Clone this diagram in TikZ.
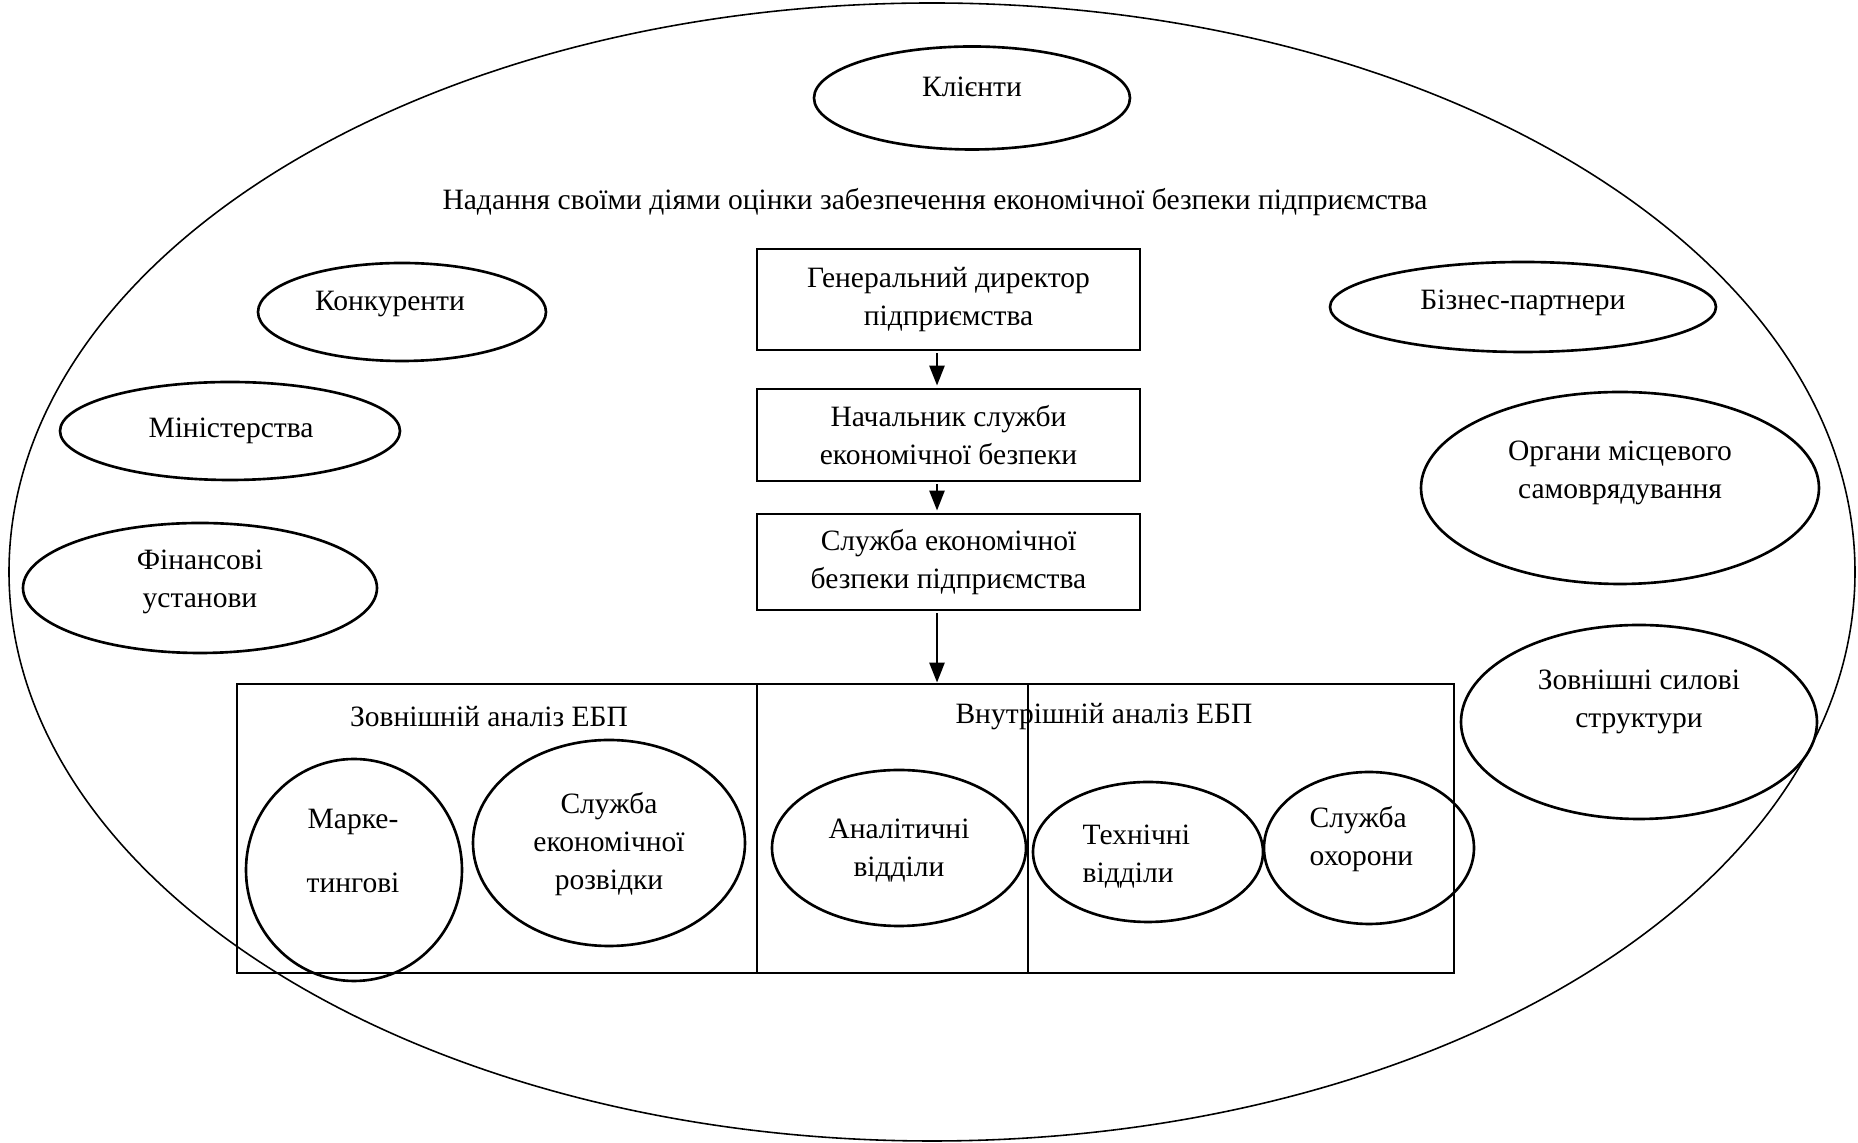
\documentclass[tikz,border=0pt]{standalone}
\usepackage{fontspec}
\setmainfont{Liberation Serif}
\usetikzlibrary{shapes.geometric,arrows.meta}

\begin{document}
\begin{tikzpicture}[
        font=\fontsize{8.4}{10.8}\selectfont,
        box/.style={draw, line width=0.8pt, inner sep=0pt, minimum width=3.83cm, align=center},
        frame/.style={draw, line width=0.8pt, inner sep=0pt, minimum height=2.89cm},
        oval/.style={draw, ellipse, line width=0.75pt, inner sep=0pt},
        txt/.style={align=center, inner sep=0pt},
        arr/.style={-{Triangle[length=2mm,width=1.5mm]}, line width=0.8pt, shorten <=0.02cm, shorten >=0.02cm}
    ]
            \useasboundingbox (0,0) rectangle (18.58,11.43);

            % environment of the enterprise
            \draw[line width=0.45pt] (9.32,5.71) ellipse (9.23 and 5.69);

            \node[oval, minimum width=3.16cm, minimum height=1.03cm] (klienty) at (9.72,10.45) {};
            \node[txt] (klienty-t) at (9.72,10.56) {Клієнти};

            \node[txt] (nadannia) at (9.35,9.41) {Надання своїми діями оцінки забезпечення економічної безпеки підприємства};

            \node[oval, minimum width=2.88cm, minimum height=0.98cm] (konkurenty) at (4.02,8.31) {};
            \node[txt] (konkurenty-t) at (3.90,8.39) {Конкуренти};
            \node[oval, minimum width=3.40cm, minimum height=0.98cm] (ministerstva) at (2.30,7.12) {};
            \node[txt] (ministerstva-t) at (2.31,7.12) {Міністерства};
            \node[oval, minimum width=3.54cm, minimum height=1.30cm] (finansovi) at (2.00,5.55) {};
            \node[txt] (finansovi-t) at (2.00,5.61) {Фінансові\\установи};

            \node[oval, minimum width=3.86cm, minimum height=0.90cm] (partnery) at (15.23,8.36) {};
            \node[txt] (partnery-t) at (15.23,8.40) {Бізнес-партнери};
            \node[oval, minimum width=3.98cm, minimum height=1.92cm] (orhany) at (16.20,6.55) {};
            \node[txt] (orhany-t) at (16.20,6.70) {Органи місцевого\\самоврядування};
            \node[oval, minimum width=3.56cm, minimum height=1.94cm] (sylovi) at (16.39,4.21) {};
            \node[txt] (sylovi-t) at (16.39,4.41) {Зовнішні силові\\структури};

            % management chain
            \node[box, minimum height=1.01cm] (dyrektor) at (9.485,8.435) {Генеральний директор\\підприємства};
            \node[box, minimum height=0.92cm] (nachalnyk) at (9.485,7.08) {Начальник служби\\економічної безпеки};
            \node[box, minimum height=0.96cm] (sluzhba) at (9.485,5.81) {Служба економічної\\безпеки підприємства};

            % analysis block
            \node[frame, minimum width=12.17cm] (analiz) at (8.455,3.145) {};
            \node[frame, minimum width=2.71cm] (serednia) at (8.925,3.145) {};
            \node[txt] (zovn-t) at (4.89,4.265) {Зовнішній аналіз ЕБП};
            \node[txt] (vnutr-t) at (11.04,4.265) {Внутрішній аналіз ЕБП};

            \node[oval, minimum width=2.16cm, minimum height=2.22cm] (marketynh) at (3.54,2.73) {};
            \node[txt] (marketynh-t) at (3.53,2.92) {Марке-\\[0.27cm]тингові};
            \node[oval, minimum width=2.72cm, minimum height=2.06cm] (rozvidka) at (6.09,3.00) {};
            \node[txt] (rozvidka-t) at (6.09,2.985) {Служба\\економічної\\розвідки};
            \node[oval, minimum width=2.54cm, minimum height=1.56cm] (analitychni) at (8.99,2.95) {};
            \node[txt] (analitychni-t) at (8.99,2.92) {Аналітичні\\відділи};
            \node[oval, minimum width=2.30cm, minimum height=1.40cm] (tekhnichni) at (11.48,2.91) {};
            \node[txt, align=left, anchor=west] (tekhnichni-t) at (10.82,2.867) {Технічні\\відділи};
            \node[oval, minimum width=2.10cm, minimum height=1.52cm] (okhorona) at (13.69,2.95) {};
            \node[txt, align=left, anchor=west] (okhorona-t) at (13.09,3.039) {Служба\\охорони};

            % arrows
            \coordinate (a1) at ([xshift=-0.115cm]dyrektor.south);
            \coordinate (a2) at ([xshift=-0.115cm]nachalnyk.south);
            \coordinate (a3) at ([xshift=-0.115cm]sluzhba.south);
            \draw[arr] (a1) -- (a1 |- nachalnyk.north);
            \draw[arr] (a2) -- (a2 |- sluzhba.north);
            \draw[arr, shorten >=0pt] (a3) -- (a3 |- analiz.north);
        \end{tikzpicture}
\end{document}
